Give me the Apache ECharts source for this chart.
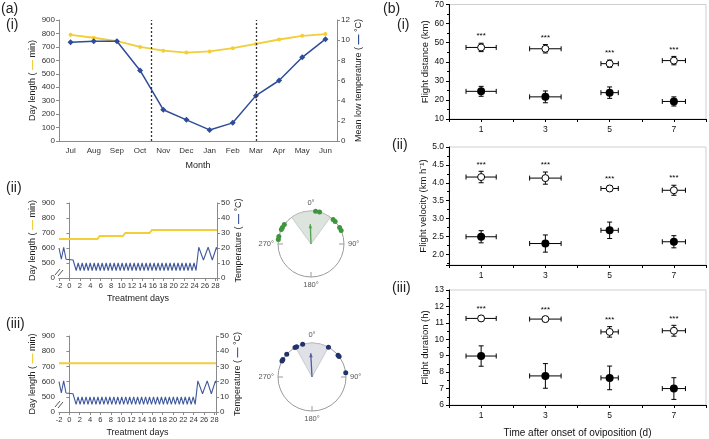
<!DOCTYPE html>
<html><head><meta charset="utf-8">
<script src="https://cdn.jsdelivr.net/npm/echarts@6/dist/echarts.min.js"></script>
<style>html,body{margin:0;padding:0;background:#fff}#c{width:709px;height:439px}</style>
</head><body><div id="c"></div><script>
// ---------- (a)(i) monthly data ----------
const months = ['Jul','Aug','Sep','Oct','Nov','Dec','Jan','Feb','Mar','Apr','May','Jun'];
const dayLengthMonthly = [790,768,742,700,672,658,666,690,722,755,782,795];
const lowTempMonthly = [9.8,9.9,9.9,7.0,3.1,2.1,1.1,1.8,4.5,6.0,8.3,10.1];
const seasonMarks = [4, 8.5]; // on a 0..12 month scale: Oct/Nov boundary, mid-Mar

// ---------- (a)(ii)/(iii) treatment regimes ----------
const dayLenIIDays = [-2, 5.4, 5.8, 10.3, 10.7, 15.4, 15.8, 28.3];
const dayLenIIMin  = [660, 660, 680, 680, 700, 700, 720, 720];
const dayLenIIIDays = [-2, 28.3];
const dayLenIIIMin  = [720, 720];
const tempDays = [-2,-1.55,-1.1,-0.65,0.7,1.3,
  1.68,2.07,2.45,2.83,3.22,3.6,3.98,4.36,4.75,5.13,5.51,5.9,6.28,6.66,7.05,7.43,7.81,8.19,8.58,8.96,
  9.34,9.73,10.11,10.49,10.88,11.26,11.64,12.02,12.41,12.79,13.17,13.56,13.94,14.32,14.71,15.09,15.47,15.85,
  16.24,16.62,17.0,17.39,17.77,18.15,18.53,18.92,19.3,19.68,20.07,20.45,20.83,21.22,21.6,21.98,22.36,22.75,
  23.13,23.51,23.9,24.28,24.8,25.7,26.6,27.4,28.2,28.3];
const tempVals = [20,12.5,20.5,12.5,12,5,
  10,5,10,5,10,5,10,5,10,5,10,5,10,5,10,5,10,5,10,5,
  10,5,10,5,10,5,10,5,10,5,10,5,10,5,10,5,10,5,
  10,5,10,5,10,5,10,5,10,5,10,5,10,5,10,5,10,5,
  10,5,10,5,20.5,12,20.5,12,20.5,19];

// ---------- circular plots ----------
const anglesII = [278,283,296,300,306,8,15,42,47,60,66];
const meanVecII = [358, 0.6];   // [angle deg, length as fraction of radius]
const arcII = [324, 36];        // [start deg, end deg]
const anglesIII = [344,330,333,312,298,301,29,50,53,83];
const meanVecIII = [357, 0.7];
const arcIII = [331, 29];
const compassTicks = ['0°','90°','180°','270°'];

// ---------- (b) flight performance ----------
const days = [1,3,5,7];
const dayErr = [0.47,0.49,0.27,0.36];
const distOpen = [47.5,46.8,39.0,40.6], distOpenErr = [2.2,2.2,1.9,2.2];
const distFilled = [24.5,21.6,23.8,19.2], distFilledErr = [2.6,3.1,3.0,2.4];
const velOpen = [4.16,4.13,3.84,3.79], velOpenErr = [0.16,0.17,0.08,0.14];
const velFilled = [2.49,2.30,2.67,2.35], velFilledErr = [0.17,0.24,0.23,0.17];
const durOpen = [11.27,11.23,10.45,10.52], durOpenErr = [0.15,0.15,0.32,0.33];
const durFilled = [8.98,7.77,7.65,7.0], durFilledErr = [0.62,0.75,0.72,0.66];
const sigMark = '***';

const FONT = 'Liberation Sans, Arial, sans-serif';
const YEL = '#F1CE3A', BLU = '#2F4C98', ZIG = '#41599c';
const chart = echarts.init(document.getElementById('c'), null, {renderer:'canvas'});

const grayAxis = {axisLine:{lineStyle:{color:'#8a8a8a'}}, axisTick:{lineStyle:{color:'#8a8a8a'}, length:3},
  axisLabel:{color:'#333', fontSize:8, margin:4}, splitLine:{show:false}};
const blackAxis = {axisLine:{lineStyle:{color:'#000'}}, axisTick:{lineStyle:{color:'#000'}, length:3},
  axisLabel:{color:'#111', fontSize:8.5, margin:5}, splitLine:{show:false},
  minorTick:{show:true, splitNumber:2, length:2, lineStyle:{color:'#000'}}};
const nameStyle = {fontSize:9, color:'#222'};
const dash = (c)=>({color:c, fontWeight:'bold', fontSize:10});

function zipPairs(xs, ys){ return xs.map((x,i)=>[x, ys[i]]); }
function errData(v, e){ return days.map((d,i)=>[d, v[i], dayErr[i], e[i]]); }
function errRender(stars){
  return function(params, api){
    const x=api.value(0), y=api.value(1), xe=api.value(2), ye=api.value(3);
    const l=api.coord([x-xe,y]), r=api.coord([x+xe,y]), t=api.coord([x,y+ye]), b=api.coord([x,y-ye]);
    const cap=2.5, st={stroke:'#000', lineWidth:1};
    const ch=[
      {type:'line', shape:{x1:l[0],y1:l[1],x2:r[0],y2:r[1]}, style:st},
      {type:'line', shape:{x1:l[0],y1:l[1]-cap,x2:l[0],y2:l[1]+cap}, style:st},
      {type:'line', shape:{x1:r[0],y1:r[1]-cap,x2:r[0],y2:r[1]+cap}, style:st},
      {type:'line', shape:{x1:t[0],y1:t[1],x2:b[0],y2:b[1]}, style:st},
      {type:'line', shape:{x1:t[0]-cap,y1:t[1],x2:t[0]+cap,y2:t[1]}, style:st},
      {type:'line', shape:{x1:b[0]-cap,y1:b[1],x2:b[0]+cap,y2:b[1]}, style:st}
    ];
    if(stars) ch.push({type:'text', style:{text:sigMark, x:t[0], y:t[1]-3, align:'center', verticalAlign:'bottom', fontSize:8, fontFamily:FONT, fill:'#000'}});
    return {type:'group', children:ch};
  };
}
function wedgeRender(fill){
  return function(params, api){
    const cs=params.coordSys, a1=api.value(1), a2=api.value(2);
    const s=(a1-90)*Math.PI/180, span=((a2-a1+360)%360)*Math.PI/180;
    return {type:'sector', shape:{cx:cs.cx, cy:cs.cy, r:cs.r, r0:0, startAngle:s, endAngle:s+span, clockwise:true},
      style:{fill:fill, stroke:'#b5b5b5', lineWidth:0.6}};
  };
}
function arrowRender(color){
  return function(params, api){
    const cs=params.coordSys, a=api.value(1)*Math.PI/180, L=api.value(0)*cs.r;
    const tx=cs.cx+L*Math.sin(a), ty=cs.cy-L*Math.cos(a);
    const ux=Math.sin(a), uy=-Math.cos(a), px=-uy, py=ux, h=4, w=1.8;
    return {type:'group', children:[
      {type:'line', shape:{x1:cs.cx,y1:cs.cy,x2:tx,y2:ty}, style:{stroke:color, lineWidth:1.3}},
      {type:'polygon', shape:{points:[[tx,ty],[tx-ux*h+px*w,ty-uy*h+py*w],[tx-ux*h-px*w,ty-uy*h-py*w]]}, style:{fill:color}}
    ]};
  };
}
function angleAxisOf(idx){
  return {polarIndex:idx, type:'value', min:0, max:360, interval:90, startAngle:90, clockwise:true,
    axisLine:{lineStyle:{color:'#9a9a9a', width:1}},
    axisTick:{show:true, inside:true, length:5, lineStyle:{color:'#9a9a9a'}},
    axisLabel:{color:'#555', fontSize:7.5, margin:4, formatter:v=>v>=360?'':compassTicks[v/90]},
    splitLine:{show:false}};
}
function radiusAxisOf(idx){
  return {polarIndex:idx, min:0, max:1, axisLine:{show:false}, axisTick:{show:false}, axisLabel:{show:false}, splitLine:{show:false}};
}
function treatXAxis(g){
  return Object.assign({}, grayAxis, {gridIndex:g, type:'value', min:-2, max:28.3, interval:2,
    axisLabel:{color:'#333', fontSize:7.5, margin:4, formatter:v=>(Number.isInteger(v)&&v%2===0)?String(v):''},
    name:'Treatment days', nameLocation:'middle', nameGap:16, nameTextStyle:nameStyle});
}
function dayLenAxis(g){
  return Object.assign({}, grayAxis, {gridIndex:g, type:'value', min:400, max:900, interval:100,
    axisLabel:{color:'#333', fontSize:8, margin:4, formatter:v=>v===400?'0':String(v)},
    name:'Day length ( {d|—} min)', nameLocation:'middle', nameRotate:90, nameGap:19,
    nameTextStyle:Object.assign({rich:{d:dash(YEL)}}, nameStyle)});
}
function tempAxis(g){
  return Object.assign({}, grayAxis, {gridIndex:g, type:'value', position:'right', min:0, max:50, interval:10,
    name:'Temperature ( {d|—} °C)', nameLocation:'middle', nameRotate:90, nameGap:16,
    nameTextStyle:Object.assign({rich:{d:dash(ZIG)}}, nameStyle)});
}
function bXAxis(g, name){
  const o = Object.assign({}, blackAxis, {gridIndex:g, type:'value', min:0, max:8, interval:1,
    axisLabel:{color:'#111', fontSize:8.5, margin:6, formatter:v=>(v%2===1)?String(v):''}, minorTick:{show:false}});
  if(name){ o.name=name; o.nameLocation='middle'; o.nameGap=23; o.nameTextStyle={fontSize:10, color:'#111'}; }
  return o;
}
function bYAxis(g, min, max, interval, name, gap, fmt){
  const o = Object.assign({}, blackAxis, {gridIndex:g, type:'value', min:min, max:max,
    name:name, nameLocation:'middle', nameRotate:90, nameGap:gap, nameTextStyle:{fontSize:9.5, color:'#111'}});
  if(interval) o.interval = interval; else o.splitNumber = 7;
  if(fmt) o.axisLabel = Object.assign({}, blackAxis.axisLabel, {formatter:fmt});
  return o;
}
function bSeries(xi, yi, open, openErr, filled, filledErr){
  return [
    {type:'custom', xAxisIndex:xi, yAxisIndex:yi, renderItem:errRender(true), data:errData(open, openErr), z:2},
    {type:'custom', xAxisIndex:xi, yAxisIndex:yi, renderItem:errRender(false), data:errData(filled, filledErr), z:2},
    {type:'scatter', xAxisIndex:xi, yAxisIndex:yi, data:zipPairs(days, filled), symbolSize:8,
      itemStyle:{color:'#000', opacity:1}, z:3},
    {type:'scatter', xAxisIndex:xi, yAxisIndex:yi, data:zipPairs(days, open), symbolSize:7,
      itemStyle:{color:'#fff', borderColor:'#000', borderWidth:1, opacity:1}, z:3}
  ];
}
const bGrid = {show:true, borderColor:'#cfcfcf', borderWidth:1, backgroundColor:'transparent'};

const option = {
  animation:false,
  textStyle:{fontFamily:FONT},
  grid:[
    {left:59, top:20, width:278, height:121},
    {left:59, top:203, width:158, height:75},
    {left:59, top:336, width:157, height:76},
    Object.assign({left:449, top:3, width:257, height:116}, bGrid),
    Object.assign({left:449, top:147, width:257, height:118}, bGrid),
    Object.assign({left:449, top:290, width:257, height:116}, bGrid)
  ],
  polar:[{center:[311,244], radius:33},{center:[312,377], radius:34}],
  angleAxis:[angleAxisOf(0), angleAxisOf(1)],
  radiusAxis:[radiusAxisOf(0), radiusAxisOf(1)],
  xAxis:[
    Object.assign({}, grayAxis, {gridIndex:0, type:'category', data:months, boundaryGap:true,
      axisLabel:{color:'#333', fontSize:8, margin:6},
      name:'Month', nameLocation:'middle', nameGap:20, nameTextStyle:nameStyle}),
    {gridIndex:0, type:'value', min:0, max:12, show:false},
    treatXAxis(1), treatXAxis(2),
    bXAxis(3), bXAxis(4), bXAxis(5, 'Time after onset of oviposition (d)')
  ],
  yAxis:[
    Object.assign({}, grayAxis, {gridIndex:0, type:'value', min:0, max:900, interval:100,
      name:'Day length ( {d|—} min)', nameLocation:'middle', nameRotate:90, nameGap:19,
      nameTextStyle:Object.assign({rich:{d:dash(YEL)}}, nameStyle)}),
    Object.assign({}, grayAxis, {gridIndex:0, type:'value', position:'right', min:0, max:12, interval:2,
      name:'Mean low temperature ( {d|—} °C)', nameLocation:'middle', nameRotate:90, nameGap:15,
      nameTextStyle:Object.assign({rich:{d:dash(BLU)}}, nameStyle)}),
    dayLenAxis(1), tempAxis(1), dayLenAxis(2), tempAxis(2),
    bYAxis(3, 10, 70, 10, 'Flight distance (km)', 12),
    bYAxis(4, 1.7, 5.0, null, 'Flight velocity (km h⁻¹)', 18,
      v=>(Math.abs(v*2-Math.round(v*2))<1e-6)?v.toFixed(1):''),
    bYAxis(5, 6, 13, 1, 'Flight duration (h)', 18)
  ],
  series:[
    {type:'line', xAxisIndex:0, yAxisIndex:0, data:dayLengthMonthly, color:YEL,
      lineStyle:{width:1.8, color:YEL}, symbol:'circle', symbolSize:4, itemStyle:{color:YEL}, z:3},
    {type:'line', xAxisIndex:0, yAxisIndex:1, data:lowTempMonthly, color:BLU,
      lineStyle:{width:1.5, color:BLU}, symbol:'diamond', symbolSize:6, itemStyle:{color:BLU}, z:4},
    {type:'line', xAxisIndex:1, yAxisIndex:0, data:[], silent:true,
      markLine:{symbol:'none', silent:true, label:{show:false}, animation:false,
        lineStyle:{type:[2,2], color:'#333', width:1.3},
        data:seasonMarks.map(v=>({xAxis:v}))}},
    {type:'line', xAxisIndex:2, yAxisIndex:2, data:zipPairs(dayLenIIDays, dayLenIIMin), symbol:'none',
      lineStyle:{width:2, color:YEL}, z:3},
    {type:'line', xAxisIndex:2, yAxisIndex:3, data:zipPairs(tempDays, tempVals), symbol:'none',
      lineStyle:{width:1.1, color:ZIG}, z:3},
    {type:'line', xAxisIndex:3, yAxisIndex:4, data:zipPairs(dayLenIIIDays, dayLenIIIMin), symbol:'none',
      lineStyle:{width:2, color:YEL}, z:3},
    {type:'line', xAxisIndex:3, yAxisIndex:5, data:zipPairs(tempDays, tempVals), symbol:'none',
      lineStyle:{width:1.1, color:ZIG}, z:3},
    // circular plots
    {type:'custom', coordinateSystem:'polar', polarIndex:0, renderItem:wedgeRender('#dde3dd'), data:[[1, arcII[0], arcII[1]]], z:1},
    {type:'custom', coordinateSystem:'polar', polarIndex:0, renderItem:arrowRender('#4fa24f'), data:[[meanVecII[1], meanVecII[0]]], z:2},
    {type:'scatter', coordinateSystem:'polar', polarIndex:0, data:anglesII.map(a=>[1,a]), symbolSize:5,
      itemStyle:{color:'#3d963d', opacity:1}, z:3},
    {type:'custom', coordinateSystem:'polar', polarIndex:1, renderItem:wedgeRender('#dfe1e6'), data:[[1, arcIII[0], arcIII[1]]], z:1},
    {type:'custom', coordinateSystem:'polar', polarIndex:1, renderItem:arrowRender('#4d5f9e'), data:[[meanVecIII[1], meanVecIII[0]]], z:2},
    {type:'scatter', coordinateSystem:'polar', polarIndex:1, data:anglesIII.map(a=>[1,a]), symbolSize:5,
      itemStyle:{color:'#22336b', opacity:1}, z:3}
  ].concat(
    bSeries(4, 6, distOpen, distOpenErr, distFilled, distFilledErr),
    bSeries(5, 7, velOpen, velOpenErr, velFilled, velFilledErr),
    bSeries(6, 8, durOpen, durOpenErr, durFilled, durFilledErr)
  ),
  graphic:[
    {type:'text', left:1, top:2, style:{text:'(a)', fontSize:14, fontFamily:FONT, fill:'#222'}},
    {type:'text', left:6, top:18, style:{text:'(i)', fontSize:14, fontFamily:FONT, fill:'#222'}},
    {type:'text', left:6, top:181, style:{text:'(ii)', fontSize:14, fontFamily:FONT, fill:'#222'}},
    {type:'text', left:6, top:317, style:{text:'(iii)', fontSize:14, fontFamily:FONT, fill:'#222'}},
    {type:'text', left:383, top:2, style:{text:'(b)', fontSize:14, fontFamily:FONT, fill:'#222'}},
    {type:'text', left:397, top:18, style:{text:'(i)', fontSize:14, fontFamily:FONT, fill:'#222'}},
    {type:'text', left:392, top:138, style:{text:'(ii)', fontSize:14, fontFamily:FONT, fill:'#222'}},
    {type:'text', left:392, top:281, style:{text:'(iii)', fontSize:14, fontFamily:FONT, fill:'#222'}},
    {type:'group', x:59, y:272, children:[
      {type:'line', shape:{x1:-4,y1:3,x2:1,y2:-3}, style:{stroke:'#555', lineWidth:1}},
      {type:'line', shape:{x1:-1,y1:4,x2:4,y2:-2}, style:{stroke:'#555', lineWidth:1}}]},
    {type:'group', x:59, y:404, children:[
      {type:'line', shape:{x1:-4,y1:3,x2:1,y2:-3}, style:{stroke:'#555', lineWidth:1}},
      {type:'line', shape:{x1:-1,y1:4,x2:4,y2:-2}, style:{stroke:'#555', lineWidth:1}}]}
  ]
};
chart.setOption(option);
</script></body></html>
